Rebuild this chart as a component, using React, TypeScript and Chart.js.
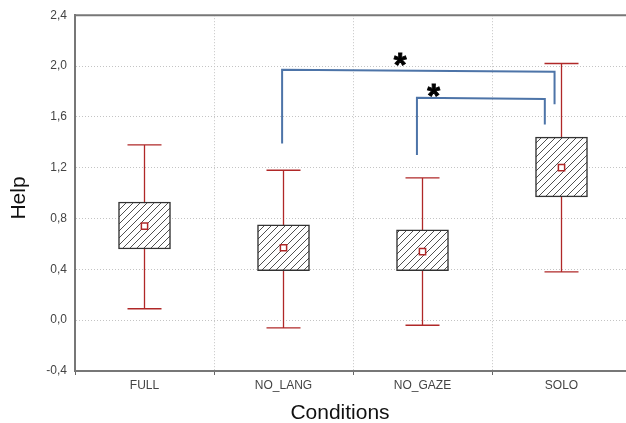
import React, { useEffect, useRef } from 'react';
import Chart from 'chart.js/auto';

const categories = ['FULL', 'NO_LANG', 'NO_GAZE', 'SOLO'];
const means = [0.74, 0.57, 0.54, 1.2];
const boxLow = [0.56, 0.39, 0.39, 0.97];
const boxHigh = [0.93, 0.75, 0.71, 1.44];
const whiskerLow = [0.09, -0.06, -0.04, 0.38];
const whiskerHigh = [1.38, 1.18, 1.12, 2.02];
const yTicks = [-0.4, 0, 0.4, 0.8, 1.2, 1.6, 2.0, 2.4];

const bracketWideX = [0.99, 0.99, 2.95, 2.95];
const bracketWideY = [1.39, 1.97, 1.955, 1.7];
const bracketNarrowX = [1.96, 1.96, 2.88, 2.88];
const bracketNarrowY = [1.3, 1.75, 1.74, 1.54];
const starX = [1.84, 2.08];
const starY = [2.05, 1.81];

const xTitle = 'Conditions';
const yTitle = 'Help';

const FONT = "'Liberation Sans', Arial, sans-serif";

function makeHatch(): CanvasPattern | string {
  const s = 7;
  const c = document.createElement('canvas');
  c.width = s;
  c.height = s;
  const g = c.getContext('2d');
  if (!g) return '#fff';
  g.fillStyle = '#ffffff';
  g.fillRect(0, 0, s, s);
  g.strokeStyle = '#505050';
  g.lineWidth = 1;
  g.beginPath();
  g.moveTo(0, s);
  g.lineTo(s, 0);
  g.moveTo(-1, 1);
  g.lineTo(1, -1);
  g.moveTo(s - 1, s + 1);
  g.lineTo(s + 1, s - 1);
  g.stroke();
  return g.createPattern(c, 'repeat') || '#fff';
}

const overlay = {
  id: 'overlay',
  beforeDatasetsDraw(chart: any) {
    const { ctx, scales } = chart;
    const x = scales.x;
    const y = scales.y;
    ctx.save();
    ctx.strokeStyle = '#b02828';
    ctx.lineWidth = 1.3;
    categories.forEach((_, i) => {
      const cx = x.getPixelForValue(i);
      const yl = y.getPixelForValue(whiskerLow[i]);
      const yh = y.getPixelForValue(whiskerHigh[i]);
      ctx.beginPath();
      ctx.moveTo(cx, yl);
      ctx.lineTo(cx, yh);
      ctx.moveTo(cx - 17, yl);
      ctx.lineTo(cx + 17, yl);
      ctx.moveTo(cx - 17, yh);
      ctx.lineTo(cx + 17, yh);
      ctx.stroke();
    });
    ctx.restore();
  },
  afterDatasetsDraw(chart: any) {
    const { ctx, scales, chartArea } = chart;
    const x = scales.x;
    const y = scales.y;
    ctx.save();
    // top frame
    ctx.strokeStyle = '#777';
    ctx.lineWidth = 2;
    ctx.beginPath();
    ctx.moveTo(chartArea.left, chartArea.top);
    ctx.lineTo(chartArea.right, chartArea.top);
    ctx.stroke();
    // brackets
    ctx.strokeStyle = '#4d74a8';
    ctx.lineWidth = 2;
    ctx.lineJoin = 'miter';
    [[bracketWideX, bracketWideY], [bracketNarrowX, bracketNarrowY]].forEach(([bx, by]) => {
      ctx.beginPath();
      bx.forEach((v, k) => {
        const px = x.getPixelForValue(v);
        const py = y.getPixelForValue(by[k]);
        if (k === 0) ctx.moveTo(px, py);
        else ctx.lineTo(px, py);
      });
      ctx.stroke();
    });
    // asterisks
    ctx.fillStyle = '#000';
    ctx.strokeStyle = '#000';
    ctx.lineWidth = 0.8;
    ctx.font = `bold 33px ${FONT}`;
    ctx.textAlign = 'center';
    ctx.textBaseline = 'alphabetic';
    starX.forEach((v, k) => {
      const px = x.getPixelForValue(v);
      const py = y.getPixelForValue(starY[k]);
      const m = ctx.measureText('*');
      const asc = m.actualBoundingBoxAscent;
      const desc = m.actualBoundingBoxDescent;
      const base = py - (desc - asc) / 2;
      ctx.fillText('*', px, base);
      ctx.strokeText('*', px, base);
    });
    ctx.restore();
  },
  afterDraw(chart: any) {
    const { ctx } = chart;
    ctx.save();
    ctx.fillStyle = '#111';
    ctx.font = `21px ${FONT}`;
    ctx.textAlign = 'center';
    ctx.textBaseline = 'middle';
    ctx.fillText(xTitle, 340, 413);
    ctx.translate(19, 198);
    ctx.rotate(-Math.PI / 2);
    ctx.fillText(yTitle, 0, 0);
    ctx.restore();
  },
};

export default function App() {
  const ref = useRef<HTMLCanvasElement | null>(null);
  useEffect(() => {
    if (!ref.current) return;
    const hatch = makeHatch();
    const chart = new Chart(ref.current, {
      type: 'bar',
      data: {
        labels: categories,
        datasets: [
          {
            type: 'line',
            label: 'Mean',
            data: means,
            showLine: false,
            pointStyle: 'rect',
            pointRadius: 4.4,
            pointBorderWidth: 1.5,
            pointBorderColor: '#b02828',
            pointBackgroundColor: '#ffffff',
            order: 0,
          } as any,
          {
            type: 'bar',
            label: 'Box',
            data: categories.map((_, i) => [boxLow[i], boxHigh[i]]),
            backgroundColor: hatch as any,
            borderColor: '#333',
            borderWidth: 1.5,
            borderSkipped: false,
            barThickness: 52,
            order: 1,
          } as any,
        ],
      },
      options: {
        responsive: false,
        animation: false,
        devicePixelRatio: 1,
        layout: { padding: { top: 14, right: 9, left: 0, bottom: 0 } },
        plugins: { legend: { display: false }, tooltip: { enabled: false } },
        scales: {
          x: {
            offset: true,
            grid: {
              offset: true,
              color: '#c4c4c4',
              tickColor: '#666',
              tickLength: 4,
              tickBorderDash: [],
              tickWidth: 1,
            } as any,
            border: { display: true, color: '#777', width: 2, dash: [1, 2] },
            ticks: {
              color: '#444',
              padding: 3,
              font: { family: FONT, size: 12 },
            },
            title: { display: false },
            afterFit: (s: any) => {
              s.height = 52;
            },
          },
          y: {
            min: -0.4,
            max: 2.4,
            afterBuildTicks: (s: any) => {
              s.ticks = yTicks.map((v) => ({ value: v }));
            },
            grid: {
              color: '#c4c4c4',
              drawTicks: false,
            } as any,
            border: { display: true, color: '#777', width: 2, dash: [1, 2] },
            ticks: {
              color: '#444',
              padding: 8,
              font: { family: FONT, size: 12 },
              callback: (v: any) => Number(v).toFixed(1).replace('.', ','),
            },
            title: { display: false },
            afterFit: (s: any) => {
              s.width = 75;
            },
          },
        },
      },
      plugins: [overlay],
    });
    return () => chart.destroy();
  }, []);
  return (
    <div
      style={{
        position: 'fixed',
        left: 0,
        top: 0,
        width: 626,
        height: 423,
        overflow: 'hidden',
        background: '#fff',
      }}
    >
      <canvas ref={ref} width={640} height={423} style={{ display: 'block' }} />
    </div>
  );
}
